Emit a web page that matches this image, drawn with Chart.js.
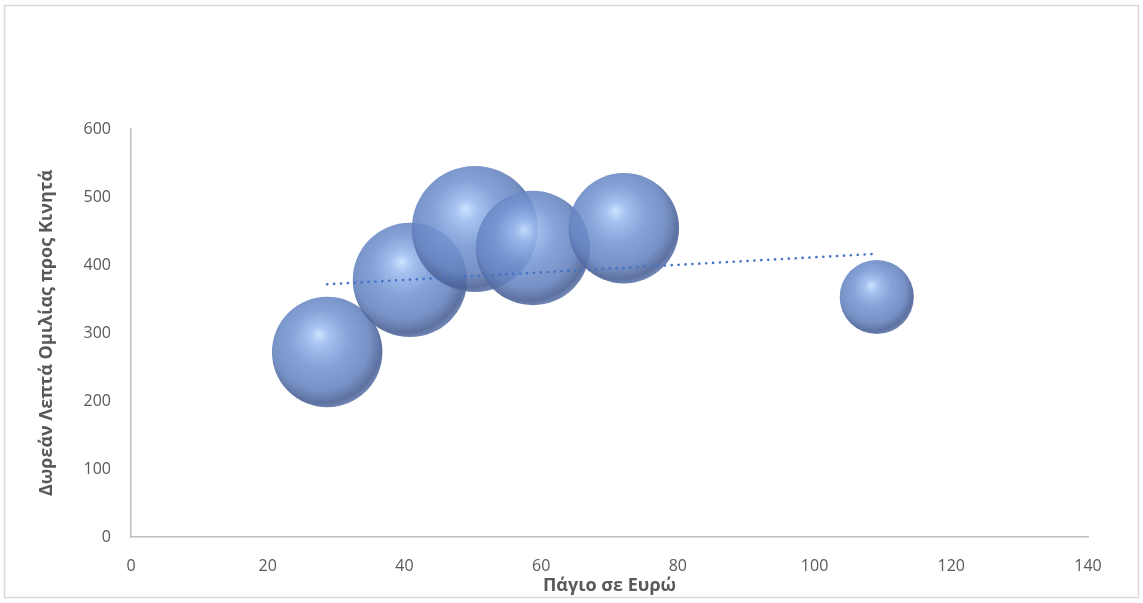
<!DOCTYPE html>
<html>
<head>
<meta charset="utf-8">
<script src="https://cdn.jsdelivr.net/npm/chart.js@4.4.1/dist/chart.umd.min.js"></script>
<style>
    html, body { margin: 0; padding: 0; background: #fff; overflow: hidden; }
    /* canvas a bit wider than the window: the bubble overflow padding (63px) is kept off-screen */
    #wrap { width: 1151px; height: 603px; position: relative; }
</style>
</head>
<body>
<div id="wrap"><canvas id="grafico"></canvas></div>
<script>
// data
const pagio = [28.7, 40.8, 50.3, 58.8, 72.1, 109.1];      // x: Πάγιο σε Ευρώ
const lepta = [272, 378, 453, 425, 454, 353];             // y: Δωρεάν Λεπτά
const megethos = [1000, 1070, 1300, 1070, 1000, 450];    // bubble size values
const xTicks = [0, 20, 40, 60, 80, 100, 120, 140];
const yTicks = [0, 100, 200, 300, 400, 500, 600];

const MAX_R = 63;
const grey = '#595959';

function bubbleR(v) {
    const maxSize = Math.max(...megethos);
    return MAX_R * Math.sqrt(v / maxSize);
}

// linear trend line (least squares)
function trend() {
    const n = pagio.length;
    const mx = pagio.reduce((a, b) => a + b, 0) / n;
    const my = lepta.reduce((a, b) => a + b, 0) / n;
    let sxy = 0, sxx = 0;
    for (let i = 0; i < n; i++) {
        sxy += (pagio[i] - mx) * (lepta[i] - my);
        sxx += (pagio[i] - mx) * (pagio[i] - mx);
    }
    const b = sxy / sxx;
    const a = my - b * mx;
    const x0 = Math.min(...pagio), x1 = Math.max(...pagio);
    return [{ x: x0, y: a + b * x0 }, { x: x1, y: a + b * x1 }];
}

function sphere(c) {
    const chart = c.chart;
    if (c.type !== 'data' || !chart.chartArea) return 'rgba(115,148,210,0.88)';
    const cx = chart.scales.x.getPixelForValue(c.raw.x);
    const cy = chart.scales.y.getPixelForValue(c.raw.y);
    const r = c.raw.r;
    const g = chart.ctx.createRadialGradient(cx - 0.15 * r, cy - 0.32 * r, 0, cx - 0.1 * r, cy - 0.15 * r, 1.18 * r);
    g.addColorStop(0, 'rgba(200,224,255,0.92)');
    g.addColorStop(0.16, 'rgba(155,186,238,0.9)');
    g.addColorStop(0.45, 'rgba(116,149,210,0.88)');
    g.addColorStop(0.75, 'rgba(100,130,190,0.88)');
    g.addColorStop(0.92, 'rgba(76,98,150,0.9)');
    g.addColorStop(1, 'rgba(90,115,170,0.85)');
    return g;
}

const frame = {
    id: 'frame',
    afterDraw(chart) {
        const ctx = chart.ctx;
        ctx.save();
        ctx.strokeStyle = '#D9D9D9';
        ctx.lineWidth = 1.5;
        ctx.strokeRect(4.5, 5.5, 1134, 592);
        ctx.restore();
    }
};

const ctx = document.getElementById('grafico');
const myChart = new Chart(ctx, {
    type: 'bubble',
    data: {
        datasets: [{
            label: 'Λεπτά',
            data: pagio.map((x, i) => ({ x: x, y: lepta[i], r: bubbleR(megethos[i]) })),
            backgroundColor: sphere,
            borderWidth: 0,
            order: 1
        }, {
            type: 'line',
            label: 'Γραμμική',
            data: trend(),
            borderColor: '#4472C4',
            borderWidth: 2.6,
            borderDash: [0.1, 6.8],
            borderCapStyle: 'round',
            pointRadius: 0,
            fill: false,
            order: 0
        }]
    },
    options: {
        responsive: true,
        maintainAspectRatio: false,
        animation: false,
        events: [],
        layout: { padding: { left: 30, right: 55, top: 129, bottom: 6 } },
        plugins: {
            legend: { display: false },
            tooltip: { enabled: false }
        },
        scales: {
            x: {
                type: 'linear',
                min: 0,
                max: 140,
                afterBuildTicks: s => { s.ticks = xTicks.map(v => ({ value: v })); },
                afterFit: s => { s.height = 60; },
                grid: { display: false, drawTicks: false },
                border: { display: true, color: '#BFBFBF', width: 1.5 },
                ticks: { color: grey, padding: 20, font: { family: 'Open Sans', size: 16 } },
                title: {
                    display: true,
                    text: 'Πάγιο σε Ευρώ',
                    color: grey,
                    padding: 0,
                    font: { family: 'Open Sans', size: 18, weight: 'bold' }
                }
            },
            y: {
                type: 'linear',
                min: 0,
                max: 600,
                afterBuildTicks: s => { s.ticks = yTicks.map(v => ({ value: v })); },
                afterFit: s => { s.width = 101; },
                grid: { display: false, drawTicks: false },
                border: { display: true, color: '#BFBFBF', width: 1.5 },
                ticks: { color: grey, padding: 20, font: { family: 'Open Sans', size: 16 } },
                title: {
                    display: true,
                    text: 'Δωρεάν Λεπτά Ομιλίας προς Κινητά',
                    color: grey,
                    padding: { top: 6, bottom: 0 },
                    font: { family: 'Open Sans', size: 18, weight: 'bold' }
                }
            }
        }
    },
    plugins: [frame]
});
</script>
</body>
</html>
